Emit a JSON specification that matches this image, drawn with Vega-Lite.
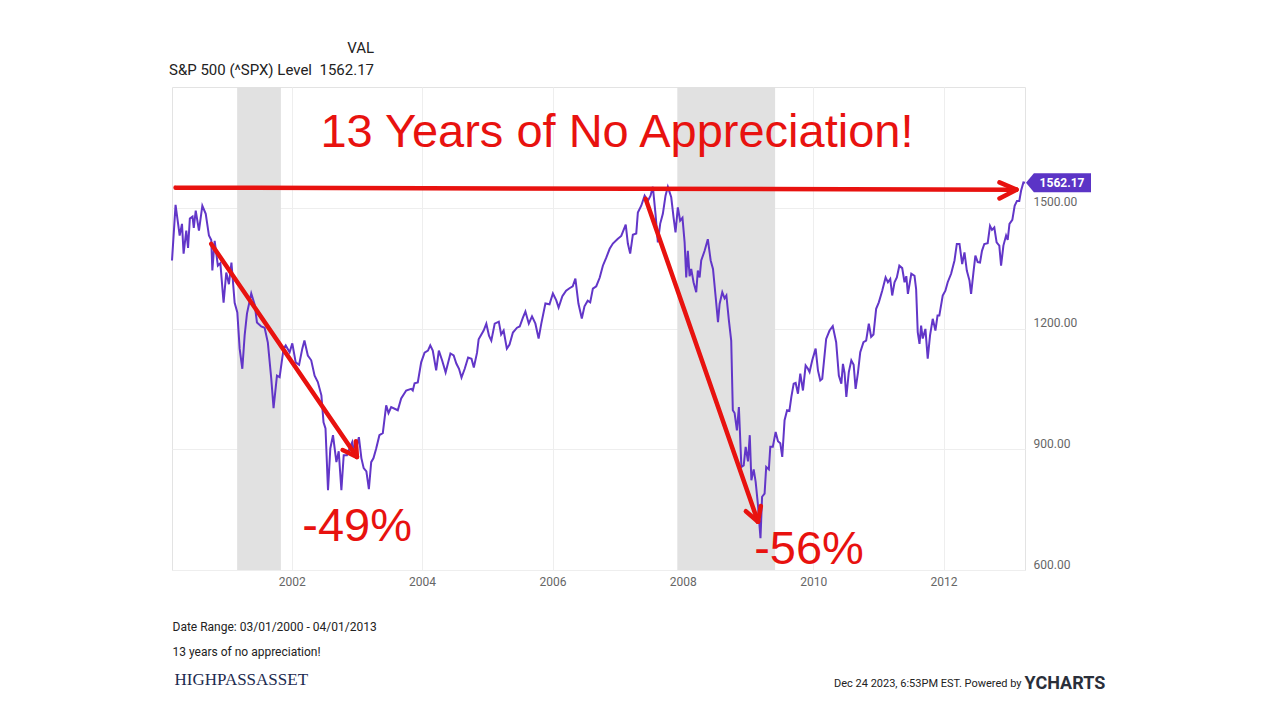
{
  "$schema": "https://vega.github.io/schema/vega-lite/v6.json",
  "width": 853,
  "height": 483,
  "autosize": {"type": "none"},
  "padding": {"left": 172, "top": 87, "right": 255, "bottom": 150},
  "background": "white",
  "title": {
    "text": "VAL",
    "subtitle": "S&P 500 (^SPX) Level\u00a0 1562.17",
    "anchor": "start",
    "frame": "group",
    "align": "right",
    "dx": 202,
    "offset": 9,
    "font": "Roboto",
    "fontSize": 15,
    "fontWeight": "normal",
    "color": "#222222",
    "subtitleFont": "Roboto",
    "subtitleFontSize": 15,
    "subtitleColor": "#222222",
    "subtitlePadding": 7
  },
  "datasets": {
    "rec": [
      {"start": "2001-03-01", "end": "2001-11-01"},
      {"start": "2007-12-01", "end": "2009-06-01"}
    ],
    "arrows": [
      {"x1": "2000-03-21", "y1": 1550, "x2": "2013-02-12", "y2": 1545},
      {"x1": "2013-02-12", "y1": 1545, "x2": "2012-11-09", "y2": 1563},
      {"x1": "2013-02-12", "y1": 1545, "x2": "2012-11-09", "y2": 1523},
      {"x1": "2000-10-07", "y1": 1410, "x2": "2003-01-01", "y2": 881},
      {"x1": "2003-01-01", "y1": 881, "x2": "2002-10-13", "y2": 898},
      {"x1": "2003-01-01", "y1": 881, "x2": "2002-12-26", "y2": 920},
      {"x1": "2007-06-07", "y1": 1522, "x2": "2009-02-25", "y2": 720},
      {"x1": "2009-02-25", "y1": 720, "x2": "2008-12-19", "y2": 746},
      {"x1": "2009-02-25", "y1": 720, "x2": "2009-03-13", "y2": 759}
    ],
    "notes": [
      {"label": "13 Years of No Appreciation!", "d": "2006-12-28", "v": 1686},
      {"label": "-49%", "d": "2003-01-02", "v": 706},
      {"label": "-56%", "d": "2009-12-08", "v": 650}
    ],
    "last": [{"d": "2013-04-01", "v": 1562.17}],
    "spx": [
      {"d":"2000-03-01","v":1369},{"d":"2000-03-21","v":1507},{"d":"2000-04-13","v":1431},{"d":"2000-04-26","v":1460},
      {"d":"2000-05-05","v":1386},{"d":"2000-05-20","v":1443},{"d":"2000-05-30","v":1400},{"d":"2000-06-09","v":1473},
      {"d":"2000-06-24","v":1478},{"d":"2000-07-01","v":1450},{"d":"2000-07-12","v":1493},{"d":"2000-07-30","v":1443},
      {"d":"2000-08-18","v":1505},{"d":"2000-09-06","v":1485},{"d":"2000-09-24","v":1431},{"d":"2000-10-07","v":1420},
      {"d":"2000-10-13","v":1344},{"d":"2000-10-26","v":1418},{"d":"2000-11-13","v":1356},{"d":"2000-11-27","v":1362},
      {"d":"2000-12-15","v":1264},{"d":"2000-12-30","v":1339},{"d":"2001-01-14","v":1310},{"d":"2001-01-28","v":1364},
      {"d":"2001-02-15","v":1264},{"d":"2001-03-02","v":1240},{"d":"2001-03-15","v":1150},{"d":"2001-03-30","v":1100},
      {"d":"2001-04-12","v":1183},{"d":"2001-04-25","v":1237},{"d":"2001-05-19","v":1287},{"d":"2001-06-07","v":1260},
      {"d":"2001-06-20","v":1215},{"d":"2001-07-14","v":1205},{"d":"2001-08-02","v":1202},{"d":"2001-08-20","v":1165},
      {"d":"2001-09-08","v":1076},{"d":"2001-09-21","v":1002},{"d":"2001-10-10","v":1083},{"d":"2001-10-25","v":1079},
      {"d":"2001-11-16","v":1150},{"d":"2001-11-28","v":1158},{"d":"2001-12-20","v":1141},{"d":"2002-01-04","v":1163},
      {"d":"2002-01-23","v":1116},{"d":"2002-02-11","v":1110},{"d":"2002-03-01","v":1150},{"d":"2002-03-13","v":1170},
      {"d":"2002-04-01","v":1133},{"d":"2002-04-20","v":1121},{"d":"2002-05-09","v":1083},{"d":"2002-05-27","v":1067},
      {"d":"2002-06-16","v":1034},{"d":"2002-06-28","v":967},{"d":"2002-07-09","v":952},{"d":"2002-07-23","v":798},
      {"d":"2002-08-05","v":902},{"d":"2002-08-20","v":935},{"d":"2002-09-08","v":868},{"d":"2002-09-21","v":895},
      {"d":"2002-10-06","v":798},{"d":"2002-10-19","v":885},{"d":"2002-11-06","v":885},{"d":"2002-11-21","v":902},
      {"d":"2002-12-06","v":918},{"d":"2002-12-19","v":885},{"d":"2003-01-12","v":930},{"d":"2003-01-26","v":878},
      {"d":"2003-02-08","v":853},{"d":"2003-02-23","v":845},{"d":"2003-03-09","v":801},{"d":"2003-03-22","v":868},
      {"d":"2003-04-04","v":878},{"d":"2003-04-19","v":902},{"d":"2003-05-07","v":935},{"d":"2003-05-26","v":940},
      {"d":"2003-06-14","v":1009},{"d":"2003-06-27","v":990},{"d":"2003-07-12","v":1005},{"d":"2003-08-18","v":997},
      {"d":"2003-09-06","v":1026},{"d":"2003-10-04","v":1046},{"d":"2003-11-01","v":1050},{"d":"2003-11-10","v":1046},
      {"d":"2003-11-20","v":1064},{"d":"2003-12-08","v":1066},{"d":"2003-12-27","v":1116},{"d":"2004-01-15","v":1140},
      {"d":"2004-02-03","v":1145},{"d":"2004-02-16","v":1158},{"d":"2004-03-01","v":1145},{"d":"2004-03-20","v":1096},
      {"d":"2004-04-04","v":1145},{"d":"2004-04-23","v":1120},{"d":"2004-05-12","v":1091},{"d":"2004-06-08","v":1138},
      {"d":"2004-06-26","v":1133},{"d":"2004-07-11","v":1113},{"d":"2004-07-26","v":1100},{"d":"2004-08-09","v":1078},
      {"d":"2004-08-27","v":1100},{"d":"2004-09-15","v":1128},{"d":"2004-10-04","v":1125},{"d":"2004-10-17","v":1103},
      {"d":"2004-11-04","v":1140},{"d":"2004-11-13","v":1173},{"d":"2004-12-11","v":1195},{"d":"2004-12-26","v":1212},
      {"d":"2005-01-10","v":1182},{"d":"2005-01-23","v":1170},{"d":"2005-02-11","v":1212},{"d":"2005-03-06","v":1217},
      {"d":"2005-03-19","v":1185},{"d":"2005-04-02","v":1195},{"d":"2005-04-20","v":1150},{"d":"2005-05-05","v":1160},
      {"d":"2005-05-24","v":1190},{"d":"2005-06-16","v":1202},{"d":"2005-07-01","v":1205},{"d":"2005-07-19","v":1227},
      {"d":"2005-08-02","v":1242},{"d":"2005-08-21","v":1212},{"d":"2005-09-08","v":1230},{"d":"2005-09-27","v":1212},
      {"d":"2005-10-15","v":1175},{"d":"2005-10-30","v":1212},{"d":"2005-11-22","v":1262},{"d":"2005-12-15","v":1260},
      {"d":"2006-01-03","v":1287},{"d":"2006-01-22","v":1270},{"d":"2006-02-04","v":1252},{"d":"2006-02-25","v":1280},
      {"d":"2006-03-18","v":1294},{"d":"2006-04-06","v":1300},{"d":"2006-04-24","v":1305},{"d":"2006-05-09","v":1324},
      {"d":"2006-05-26","v":1262},{"d":"2006-06-14","v":1225},{"d":"2006-06-29","v":1255},{"d":"2006-07-17","v":1269},
      {"d":"2006-07-31","v":1265},{"d":"2006-08-15","v":1299},{"d":"2006-09-03","v":1305},{"d":"2006-09-22","v":1326},
      {"d":"2006-10-10","v":1356},{"d":"2006-10-29","v":1376},{"d":"2006-11-17","v":1398},{"d":"2006-12-05","v":1411},
      {"d":"2007-01-02","v":1423},{"d":"2007-01-21","v":1430},{"d":"2007-02-15","v":1458},{"d":"2007-02-27","v":1411},
      {"d":"2007-03-12","v":1386},{"d":"2007-03-27","v":1433},{"d":"2007-04-15","v":1436},{"d":"2007-04-24","v":1488},
      {"d":"2007-05-13","v":1505},{"d":"2007-06-01","v":1530},{"d":"2007-06-19","v":1517},{"d":"2007-07-04","v":1530},
      {"d":"2007-07-17","v":1552},{"d":"2007-08-01","v":1484},{"d":"2007-08-14","v":1414},{"d":"2007-08-27","v":1460},
      {"d":"2007-09-11","v":1485},{"d":"2007-09-26","v":1530},{"d":"2007-10-09","v":1552},{"d":"2007-10-28","v":1526},
      {"d":"2007-11-10","v":1476},{"d":"2007-11-21","v":1439},{"d":"2007-12-04","v":1501},{"d":"2007-12-17","v":1468},
      {"d":"2007-12-30","v":1475},{"d":"2008-01-11","v":1414},{"d":"2008-01-20","v":1327},{"d":"2008-01-29","v":1393},
      {"d":"2008-02-08","v":1330},{"d":"2008-02-17","v":1348},{"d":"2008-03-01","v":1315},{"d":"2008-03-16","v":1290},
      {"d":"2008-03-25","v":1344},{"d":"2008-04-04","v":1327},{"d":"2008-04-13","v":1369},{"d":"2008-05-02","v":1393},
      {"d":"2008-05-20","v":1422},{"d":"2008-06-05","v":1369},{"d":"2008-06-18","v":1348},{"d":"2008-07-03","v":1278},
      {"d":"2008-07-16","v":1216},{"d":"2008-07-25","v":1261},{"d":"2008-08-09","v":1290},{"d":"2008-08-22","v":1275},
      {"d":"2008-09-01","v":1282},{"d":"2008-09-15","v":1220},{"d":"2008-09-28","v":1170},{"d":"2008-10-07","v":997},
      {"d":"2008-10-17","v":990},{"d":"2008-10-30","v":947},{"d":"2008-11-10","v":1005},{"d":"2008-11-24","v":856},
      {"d":"2008-12-07","v":860},{"d":"2008-12-18","v":906},{"d":"2008-12-31","v":870},{"d":"2009-01-10","v":935},
      {"d":"2009-01-19","v":823},{"d":"2009-02-01","v":850},{"d":"2009-02-12","v":819},{"d":"2009-02-25","v":761},
      {"d":"2009-03-11","v":679},{"d":"2009-03-20","v":782},{"d":"2009-04-03","v":790},{"d":"2009-04-12","v":856},
      {"d":"2009-04-27","v":850},{"d":"2009-05-05","v":906},{"d":"2009-05-19","v":906},{"d":"2009-06-04","v":943},
      {"d":"2009-06-17","v":920},{"d":"2009-06-30","v":915},{"d":"2009-07-11","v":881},{"d":"2009-07-24","v":972},
      {"d":"2009-08-07","v":997},{"d":"2009-08-20","v":995},{"d":"2009-08-31","v":1030},{"d":"2009-09-13","v":1063},
      {"d":"2009-09-24","v":1065},{"d":"2009-10-07","v":1038},{"d":"2009-10-20","v":1088},{"d":"2009-11-04","v":1046},
      {"d":"2009-11-19","v":1108},{"d":"2009-12-02","v":1100},{"d":"2009-12-11","v":1092},{"d":"2009-12-26","v":1121},
      {"d":"2010-01-14","v":1150},{"d":"2010-01-27","v":1096},{"d":"2010-02-09","v":1071},{"d":"2010-02-20","v":1075},
      {"d":"2010-03-14","v":1174},{"d":"2010-04-02","v":1195},{"d":"2010-04-20","v":1206},{"d":"2010-05-09","v":1166},
      {"d":"2010-05-24","v":1083},{"d":"2010-06-07","v":1063},{"d":"2010-06-16","v":1112},{"d":"2010-06-25","v":1090},
      {"d":"2010-07-05","v":1030},{"d":"2010-07-19","v":1092},{"d":"2010-08-02","v":1121},{"d":"2010-08-15","v":1110},
      {"d":"2010-08-26","v":1050},{"d":"2010-09-08","v":1090},{"d":"2010-09-21","v":1141},{"d":"2010-10-09","v":1166},
      {"d":"2010-10-24","v":1170},{"d":"2010-11-08","v":1212},{"d":"2010-11-21","v":1179},{"d":"2010-12-04","v":1185},
      {"d":"2010-12-19","v":1249},{"d":"2011-01-03","v":1265},{"d":"2011-01-22","v":1294},{"d":"2011-02-10","v":1327},
      {"d":"2011-02-23","v":1315},{"d":"2011-03-08","v":1323},{"d":"2011-03-19","v":1282},{"d":"2011-04-01","v":1315},
      {"d":"2011-04-14","v":1327},{"d":"2011-04-28","v":1356},{"d":"2011-05-14","v":1350},{"d":"2011-05-27","v":1315},
      {"d":"2011-06-06","v":1330},{"d":"2011-06-15","v":1286},{"d":"2011-07-04","v":1336},{"d":"2011-07-22","v":1331},
      {"d":"2011-07-31","v":1298},{"d":"2011-08-09","v":1191},{"d":"2011-08-19","v":1162},{"d":"2011-08-28","v":1207},
      {"d":"2011-09-06","v":1175},{"d":"2011-09-21","v":1199},{"d":"2011-10-04","v":1125},{"d":"2011-10-17","v":1183},
      {"d":"2011-11-01","v":1224},{"d":"2011-11-16","v":1195},{"d":"2011-11-28","v":1232},{"d":"2011-12-08","v":1232},
      {"d":"2011-12-27","v":1282},{"d":"2012-01-11","v":1294},{"d":"2012-01-24","v":1315},{"d":"2012-02-12","v":1336},
      {"d":"2012-03-02","v":1369},{"d":"2012-03-15","v":1410},{"d":"2012-03-30","v":1410},{"d":"2012-04-14","v":1360},
      {"d":"2012-04-27","v":1389},{"d":"2012-05-10","v":1344},{"d":"2012-05-25","v":1319},{"d":"2012-06-03","v":1286},
      {"d":"2012-06-16","v":1339},{"d":"2012-06-27","v":1381},{"d":"2012-07-10","v":1365},{"d":"2012-07-23","v":1364},
      {"d":"2012-08-03","v":1393},{"d":"2012-08-16","v":1410},{"d":"2012-09-04","v":1412},{"d":"2012-09-17","v":1455},
      {"d":"2012-09-28","v":1445},{"d":"2012-10-11","v":1451},{"d":"2012-10-24","v":1414},{"d":"2012-11-08","v":1406},
      {"d":"2012-11-18","v":1356},{"d":"2012-12-01","v":1406},{"d":"2012-12-16","v":1431},{"d":"2012-12-25","v":1420},
      {"d":"2013-01-04","v":1460},{"d":"2013-01-20","v":1470},{"d":"2013-02-02","v":1505},{"d":"2013-02-15","v":1517},
      {"d":"2013-02-28","v":1517},{"d":"2013-03-10","v":1542},{"d":"2013-03-23","v":1563},{"d":"2013-04-01","v":1562.17}
    ]
  },
  "layer": [
    {
      "data": {"name": "rec"},
      "mark": {"type": "rect", "color": "#e1e1e1"},
      "encoding": {
        "x": {"field": "start", "type": "temporal", "axis": null,
              "scale": {"type": "utc", "nice": false, "domain": [{"year": 2000, "month": 3, "date": 1, "utc": true}, {"year": 2013, "month": 4, "date": 1, "utc": true}]}},
        "x2": {"field": "end"}
      }
    },
    {
      "data": {"name": "spx"},
      "mark": {"type": "line", "color": "#6236c8", "strokeWidth": 2},
      "encoding": {
        "x": {"field": "d", "type": "temporal",
              "scale": {"type": "utc", "nice": false, "domain": [{"year": 2000, "month": 3, "date": 1, "utc": true}, {"year": 2013, "month": 4, "date": 1, "utc": true}]},
              "axis": {
                "orient": "bottom",
                "values": [{"year": 2002, "month": 1, "date": 1, "utc": true}, {"year": 2004, "month": 1, "date": 1, "utc": true}, {"year": 2006, "month": 1, "date": 1, "utc": true}, {"year": 2008, "month": 1, "date": 1, "utc": true}, {"year": 2010, "month": 1, "date": 1, "utc": true}, {"year": 2012, "month": 1, "date": 1, "utc": true}],
                "format": "%Y", "formatType": "utc",
                "labelFont": "Roboto", "labelFontSize": 12, "labelColor": "#666666", "labelPadding": 6,
                "labelFlush": false, "labelOverlap": false,
                "ticks": false, "domain": false, "grid": true, "gridColor": "#eeeeee",
                "title": ["Date Range: 03/01/2000 - 04/01/2013", "13 years of no appreciation!"],
                "titleX": 0, "titleY": 60, "titleAlign": "left", "titleAnchor": "start", "titleAngle": 0,
                "titleBaseline": "alphabetic", "titleLineHeight": 25,
                "titleFont": "Roboto", "titleFontSize": 12, "titleFontWeight": "normal", "titleColor": "#222222"
              }},
        "y": {"field": "v", "type": "quantitative",
              "scale": {"domain": [600, 1800], "nice": false, "zero": false},
              "axis": {
                "orient": "right",
                "values": [600, 900, 1200, 1500],
                "format": ".2f",
                "labelFont": "Roboto", "labelFontSize": 12, "labelColor": "#666666",
                "labelBaseline": "alphabetic", "labelPadding": 8, "labelFlush": false, "labelOffset": -2,
                "ticks": false, "domain": false, "grid": true, "gridColor": "#eeeeee",
                "title": "Dec 24 2023, 6:53PM EST. Powered by",
                "titleX": -4, "titleY": 599, "titleAngle": 0, "titleAlign": "right", "titleBaseline": "alphabetic",
                "titleFont": "Roboto", "titleFontSize": 11, "titleFontWeight": "normal", "titleColor": "#222222"
              }}
      }
    },
    {
      "data": {"name": "arrows"},
      "mark": {"type": "rule", "color": "#e8120f", "strokeWidth": 4.5, "strokeCap": "round"},
      "encoding": {
        "x": {"field": "x1", "type": "temporal", "axis": null,
              "scale": {"type": "utc", "nice": false, "domain": [{"year": 2000, "month": 3, "date": 1, "utc": true}, {"year": 2013, "month": 4, "date": 1, "utc": true}]}},
        "y": {"field": "y1", "type": "quantitative", "axis": null,
              "scale": {"domain": [600, 1800], "nice": false, "zero": false}},
        "x2": {"field": "x2"},
        "y2": {"field": "y2"}
      }
    },
    {
      "data": {"name": "notes"},
      "mark": {"type": "text", "color": "#e8120f", "font": "Liberation Sans", "fontSize": 47, "baseline": "middle", "align": "center"},
      "encoding": {
        "x": {"field": "d", "type": "temporal",
              "scale": {"type": "utc", "nice": false, "domain": [{"year": 2000, "month": 3, "date": 1, "utc": true}, {"year": 2013, "month": 4, "date": 1, "utc": true}]},
              "axis": {
                "orient": "top", "labels": false, "ticks": false, "domain": false, "grid": false,
                "title": "HIGHPASSASSET",
                "titleX": 2, "titleY": 597, "titleAlign": "left", "titleAngle": 0, "titleBaseline": "alphabetic",
                "titleFont": "Liberation Serif", "titleFontSize": 17, "titleFontWeight": "normal", "titleColor": "#1d2b4f"
              }},
        "y": {"field": "v", "type": "quantitative",
              "scale": {"domain": [600, 1800], "nice": false, "zero": false},
              "axis": {
                "orient": "left", "labels": false, "ticks": false, "domain": false, "grid": false,
                "title": "YCHARTS",
                "titleX": 852, "titleY": 601, "titleAlign": "left", "titleAngle": 0, "titleBaseline": "alphabetic",
                "titleFont": "Roboto", "titleFontSize": 18, "titleFontWeight": "bold", "titleColor": "#2a2f3a"
              }},
        "text": {"field": "label"}
      }
    },
    {
      "data": {"name": "last"},
      "mark": {"type": "point", "shape": "M0.03,0 L0.27,-0.29 L2,-0.29 L2,0.29 L0.27,0.29 Z", "size": 4356, "filled": true, "color": "#5b34c6", "opacity": 1},
      "encoding": {
        "x": {"field": "d", "type": "temporal", "axis": null,
              "scale": {"type": "utc", "nice": false, "domain": [{"year": 2000, "month": 3, "date": 1, "utc": true}, {"year": 2013, "month": 4, "date": 1, "utc": true}]}},
        "y": {"field": "v", "type": "quantitative", "axis": null,
              "scale": {"domain": [600, 1800], "nice": false, "zero": false}}
      }
    },
    {
      "data": {"name": "last"},
      "mark": {"type": "text", "color": "white", "font": "Roboto", "fontSize": 12, "fontWeight": "bold", "dx": 37, "align": "center", "baseline": "middle"},
      "encoding": {
        "x": {"field": "d", "type": "temporal", "axis": null,
              "scale": {"type": "utc", "nice": false, "domain": [{"year": 2000, "month": 3, "date": 1, "utc": true}, {"year": 2013, "month": 4, "date": 1, "utc": true}]}},
        "y": {"field": "v", "type": "quantitative", "axis": null,
              "scale": {"domain": [600, 1800], "nice": false, "zero": false}},
        "text": {"field": "v", "type": "quantitative", "format": ".2f"}
      }
    }
  ],
  "resolve": {"axis": {"x": "independent", "y": "independent"}},
  "config": {
    "view": {"stroke": "#e3e3e3"}
  }
}
